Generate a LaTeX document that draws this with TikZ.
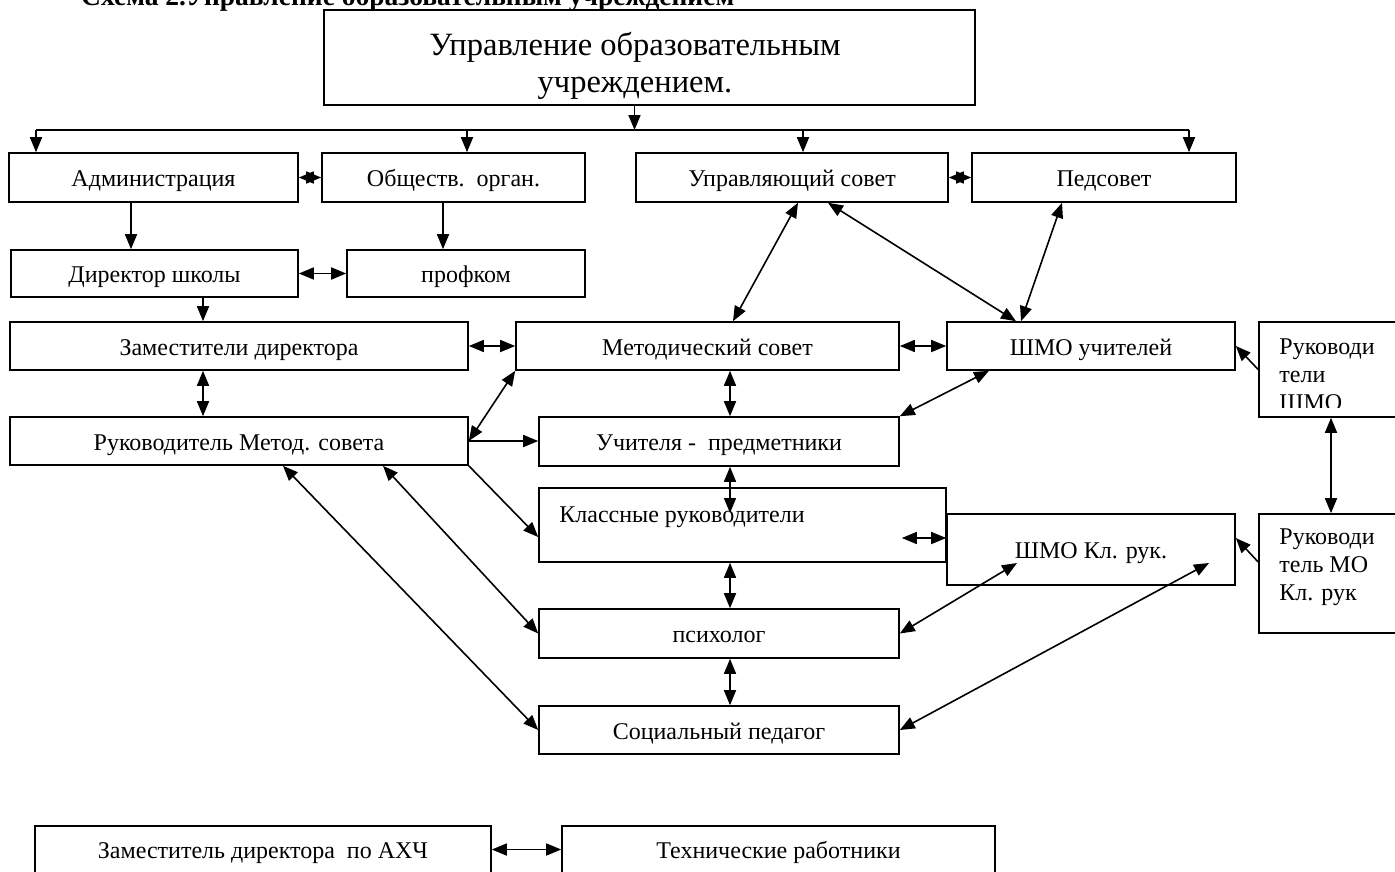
\documentclass[tikz,border=0pt]{standalone}
\usepackage{fontspec}
\setmainfont{Liberation Serif}
\usetikzlibrary{arrows.meta,calc}
\newcommand\nrmf{\fontsize{24}{28}\selectfont}
\newcommand\bigtxt{\fontsize{32.5}{37}\selectfont}
\newcommand\ttlf{\fontsize{27.5}{32}\selectfont\bfseries}
\newcommand\bx[6]{\node[box, minimum width={(#4-#2)*1pt}, minimum height={(#5-#3)*1pt}] (#1) at ({(#2+#4)/2},{(#3+#5)/2}) {#6};}
\begin{document}
\begin{tikzpicture}[x=1pt,y=-1pt,
  box/.style={draw, line width=1.6pt, inner sep=0pt, font=\nrmf, fill=white, text height=18pt, text depth=0pt},
  ln/.style={line width=1.6pt},
  arr/.style={line width=1.6pt, -{Triangle[length=15pt,width=12pt]}},
  darr/.style={line width=1.6pt, {Triangle[length=15pt,width=12pt]}-{Triangle[length=15pt,width=12pt]}},
  txt/.style={inner sep=0pt, font=\nrmf}]
\useasboundingbox (0,0) rectangle (1395,871);
\clip (0,0) rectangle (1395,871);
\fill[white] (0,0) rectangle (1395,871);

\node[anchor=base west, inner sep=0pt, font=\ttlf] (title) at (81,5) {Схема 2.Управление образовательным учреждением};

\bx{top}{324}{10}{975}{105}{}
\node[txt, font=\bigtxt, align=center] (toptxt) at (635,66) {Управление образовательным\\учреждением.};

\bx{adm}{9}{153}{298}{202}{Администрация}
\bx{obs}{322}{153}{585}{202}{Обществ.\ \ орган.}
\bx{us}{636}{153}{948}{202}{Управляющий совет}
\bx{ped}{972}{153}{1236}{202}{Педсовет}
\bx{dir}{11}{250}{298}{297}{Директор школы}
\bx{prof}{347}{250}{585}{297}{профком}
\bx{zam}{10}{322}{468}{370}{Заместители директора}
\bx{met}{516}{322}{899}{370}{Методический совет}
\bx{shmo}{947}{322}{1235}{370}{ШМО учителей}
\bx{rsh}{1259}{322}{1400}{417}{}
\bx{ruk}{10}{417}{468}{465}{Руководитель Метод. совета}
\bx{uch}{539}{417}{899}{466}{Учителя -\ \ предметники}
\bx{kl}{539}{488}{946}{562}{}
\bx{shk}{947}{514}{1235}{585}{ШМО Кл. рук.}
\bx{rmo}{1259}{514}{1400}{633}{}
\bx{psy}{539}{609}{899}{658}{психолог}
\bx{soc}{539}{706}{899}{754}{Социальный педагог}
\bx{axch}{35}{826}{491}{873}{Заместитель директора\ \ по АХЧ}
\bx{tech}{562}{826}{995}{873}{Технические работники}

\node[txt, anchor=base west] (kltxt) at ([xshift=21pt,yshift=-35pt]kl.north west) {Классные руководители};
\begin{scope}
\clip (rsh.north west) rectangle ([yshift=10pt]rsh.south east);
\node[txt, anchor=north west, align=left] (rshtxt) at ([xshift=21pt,yshift=-17pt]rsh.north west) {Руководи\\тели\\ШМО};
\end{scope}
\node[txt, anchor=north west, align=left] (rmotxt) at ([xshift=21pt,yshift=-15pt]rmo.north west) {Руководи\\тель МО\\Кл. рук};

% distribution bus
\coordinate (b1) at (36,130);
\coordinate (b2) at (467,130);
\coordinate (b3) at (803,130);
\coordinate (b4) at (1189,130);
\draw[ln] (b1) -- (b4);
\coordinate (t0) at ([xshift=-15pt]top.south);
\draw[arr] (t0) -- (t0 |- b1);
\draw[arr] (b1) -- (b1 |- adm.north);
\draw[arr] (b2) -- (b2 |- obs.north);
\draw[arr] (b3) -- (b3 |- us.north);
\draw[arr] (b4) -- (b4 |- ped.north);

\draw[darr] (adm.east) -- (obs.west);
\draw[darr] (us.east) -- (ped.west);

\coordinate (a1) at ([xshift=-22.5pt]adm.south);
\draw[arr] (a1) -- (a1 |- dir.north);
\coordinate (o1) at ([xshift=-10.5pt]obs.south);
\draw[arr] (o1) -- (o1 |- prof.north);
\draw[darr] (dir.east) -- (prof.west);
\coordinate (d1) at ([xshift=48.5pt]dir.south);
\draw[arr] (d1) -- (d1 |- zam.north);
\draw[darr] (zam.east) -- (met.west);
\draw[darr] (met.east) -- (shmo.west);
\coordinate (z1) at ([xshift=-36pt]zam.south);
\draw[darr] (z1) -- (z1 |- ruk.north);

\draw[darr] (ruk.east) -- (met.south west);
\draw[arr] (ruk.east) -- (ruk.east -| uch.west);
\coordinate (k1) at ([yshift=-12pt]kl.west);
\draw[arr] (ruk.south east) -- (k1);
\coordinate (r1) at ([xshift=144pt]ruk.south);
\draw[darr] (r1) -- (psy.west);
\coordinate (r2) at ([xshift=44pt]ruk.south);
\draw[darr] (r2) -- (soc.west);

\coordinate (m1) at ([xshift=22.5pt]met.south);
\draw[darr] (m1) -- (m1 |- uch.north);
\coordinate (s1) at ([xshift=-102pt]shmo.south);
\draw[darr] (s1) -- (uch.north east);
\coordinate (u1) at (m1 |- uch.south);
\coordinate (klin) at ([xshift=-12.5pt,yshift=12pt]kl.center);
\draw[darr] (u1) -- (klin);
\coordinate (kin) at ([xshift=-45pt,yshift=-13pt]kl.east);
\draw[darr] (kin) -- (kin -| shk.west);
\coordinate (k2) at (m1 |- kl.south);
\draw[darr] (k2) -- (k2 |- psy.north);
\coordinate (p2) at (m1 |- psy.south);
\draw[darr] (p2) -- (p2 |- soc.north);
\coordinate (sk1) at ([xshift=-74pt,yshift=-13.5pt]shk.center);
\coordinate (sk2) at ([xshift=118pt,yshift=-13.5pt]shk.center);
\draw[darr] (sk1) -- (psy.east);
\draw[darr] (sk2) -- (soc.east);

\coordinate (us1) at ([xshift=6pt]us.south);
\coordinate (us2) at ([xshift=36pt]us.south);
\coordinate (mt1) at ([xshift=25.5pt]met.north);
\coordinate (sh1) at ([xshift=-75pt]shmo.north);
\coordinate (sh2) at ([xshift=-70pt]shmo.north);
\coordinate (pd1) at ([xshift=-42pt]ped.south);
\draw[darr] (us1) -- (mt1);
\draw[darr] (us2) -- (sh1);
\draw[darr] (pd1) -- (sh2);

\draw[arr] (rsh.west) -- (shmo.east);
\coordinate (rs1) at ([xshift=1.5pt]rsh.south);
\draw[darr] (rs1) -- (rs1 |- rmo.north);
\coordinate (rm1) at ([yshift=11.5pt]rmo.west);
\coordinate (sk3) at ([yshift=11.5pt]shk.east);
\draw[arr] (rm1) -- (sk3);

\coordinate (ax1) at ([yshift=0pt]axch.east);
\draw[darr] (ax1) -- (ax1 -| tech.west);
\end{tikzpicture}
\end{document}
